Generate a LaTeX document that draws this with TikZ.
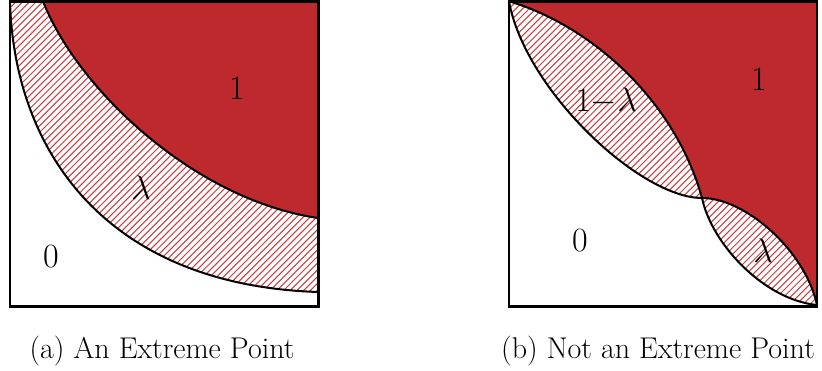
\RequirePackage{fix-cm}
\documentclass[tikz,border=0pt]{standalone}
\usepackage{amsmath}
\definecolor{solidred}{RGB}{189,41,44}
\definecolor{hatchred}{RGB}{205,60,62}
\begin{document}
\begin{tikzpicture}[x=1pt,y=-1pt,
  curve/.style={draw=black,line width=2pt},
  frame/.style={draw=black,line width=2.6pt},
  solidfill/.style={fill=solidred},
  hatchline/.style={draw=hatchred,line width=1pt},
  lbl/.style={font=\fontsize{34}{40}\selectfont,inner sep=0pt},
  captext/.style={font=\fontsize{30}{36}\selectfont,inner sep=0pt,anchor=base}]
\useasboundingbox (0,0) rectangle (822,371);
\fill[white] (0,0) rectangle (822,371);
% ---------------- left panel ----------------
\begin{scope}
  \clip (10,1.3) .. controls (14,150) and (105,285) .. (318,292) -- (318,1.3) -- cycle;
  \foreach \a in {-400,-393.3,...,340} \draw[hatchline] (\a,371) -- ({\a+371},0);
\end{scope}
\path[solidfill] (43,1.3) .. controls (78,90) and (195,200) .. (318,218) -- (318,1.3) -- cycle;
\draw[curve] (10,1.3) .. controls (14,150) and (105,285) .. (318,292);
\draw[curve] (43,1.3) .. controls (78,90) and (195,200) .. (318,218);
\draw[frame] (10,1.3) rectangle (318.5,306.5);
\node[lbl] (oneA) at (237,88) {1};
\node[lbl] (lamA) at (141,188) {$\lambda$};
\node[lbl] (zeroA) at (51,257) {0};
\node[captext] (capA) at (162,358) {(a) An Extreme Point};
% ---------------- right panel ----------------
\coordinate (M) at (702,198);
\begin{scope}
  \clip (509,1.3) .. controls (525,90) and (640,198) .. (M)
        .. controls (712,245) and (765,300) .. (817,305) -- (817,1.3) -- cycle;
  \foreach \a in {100,106.7,...,840} \draw[hatchline] (\a,371) -- ({\a+371},0);
\end{scope}
\path[solidfill] (509,1.3) .. controls (590,25) and (675,100) .. (M)
        .. controls (745,198) and (805,250) .. (817,305) -- (817,1.3) -- cycle;
\draw[curve] (509,1.3) .. controls (590,25) and (675,100) .. (M);
\draw[curve] (509,1.3) .. controls (525,90) and (640,198) .. (M);
\draw[curve] (M) .. controls (745,198) and (805,250) .. (817,305);
\draw[curve] (M) .. controls (712,245) and (765,300) .. (817,305);
\draw[frame] (509,1.3) rectangle (817,306.5);
\node[lbl] (oneB) at (759,79) {1};
\node[lbl] (ompB) at (606,101) {$1{-}\lambda$};
\node[lbl] (zeroB) at (580,241) {0};
\node[lbl] (lamB) at (763,251) {$\lambda$};
\node[captext] (capB) at (658,358) {(b) Not an Extreme Point};
\end{tikzpicture}
\end{document}
